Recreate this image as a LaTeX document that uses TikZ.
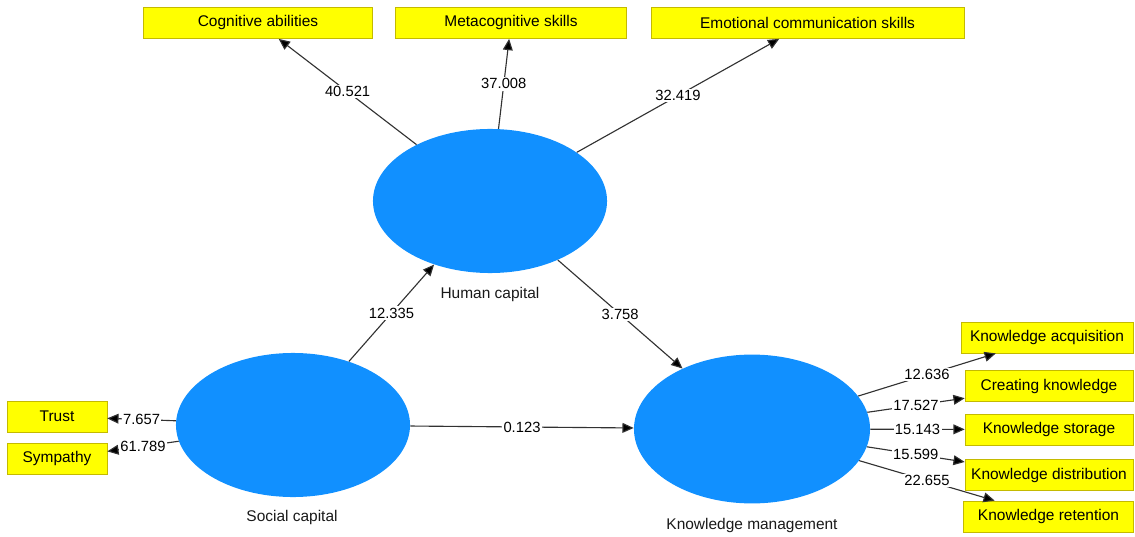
\documentclass[tikz,border=0pt]{standalone}
\usepackage{fontspec}
\setmainfont{Liberation Sans}
\usetikzlibrary{shapes.geometric,arrows.meta}
\definecolor{lvblue}{RGB}{17,144,255}
\definecolor{indyellow}{RGB}{255,255,0}
\definecolor{indedge}{RGB}{196,186,0}
\definecolor{pathgray}{RGB}{50,50,50}

\begin{document}
\begin{tikzpicture}[
    x = 0.025cm, y = -0.025cm,
    latent/.style = {ellipse, fill=lvblue, minimum width=5.85cm, minimum height=3.6cm, inner sep=0pt},
    indicator/.style = {draw=indedge, fill=indyellow, minimum height=0.78cm, inner sep=2pt,
        font=\fontsize{11}{13}\selectfont},
    lvname/.style = {font=\fontsize{11}{13}\selectfont, text=black!90},
    link/.style = {draw=pathgray, line width=0.8pt, -{Triangle[length=8pt,width=7pt,fill=black]}},
    tval/.style = {midway, fill=white, inner sep=1pt, font=\fontsize{10.5}{12}\selectfont}]

\useasboundingbox (0,0) rectangle (1135,537);

\node[latent] (hc) at (490,201) {};
\node[latent] (sc) at (293,425) {};
\node[latent, minimum width=5.9cm, minimum height=3.72cm] (km) at (752,429) {};
\node[lvname] (hcname) at (490,294) {Human capital};
\node[lvname] (scname) at (292,517) {Social capital};
\node[lvname] (kmname) at (752,525) {Knowledge management};

\node[indicator, minimum width=5.725cm] (cog) at (258,23) {Cognitive abilities};
\node[indicator, minimum width=5.775cm] (meta) at (511,23) {Metacognitive skills};
\node[indicator, minimum width=7.825cm] (emo) at (807.5,23) {Emotional communication skills};
\node[indicator, minimum width=2.5cm] (trust) at (57,416.5) {Trust};
\node[indicator, minimum width=2.5cm] (symp) at (57,458.5) {Sympathy};
\node[indicator, minimum width=4.3cm] (acq) at (1047,337.5) {Knowledge acquisition};
\node[indicator, minimum width=4.2cm] (crea) at (1049,386) {Creating knowledge};
\node[indicator, minimum width=4.2cm] (stor) at (1049,429.5) {Knowledge storage};
\node[indicator, minimum width=4.2cm] (dist) at (1049,475) {Knowledge distribution};
\node[indicator, minimum width=4.25cm] (ret) at (1048.5,516.5) {Knowledge retention};

\draw[link] (hc) -- (cog) node[tval] {40.521};
\draw[link] (hc) -- (meta) node[tval] {37.008};
\draw[link] (hc) -- (emo) node[tval] {32.419};
\draw[link] (sc) -- (hc) node[tval] {12.335};
\draw[link] (hc) -- (km) node[tval] {3.758};
\draw[link] (sc) -- (km) node[tval] {0.123};
\draw[link] (sc) -- (trust) node[tval] {7.657};
\draw[link] (sc) -- (symp) node[tval] {61.789};
\draw[link] (km) -- (acq) node[tval] {12.636};
\draw[link] (km) -- (crea) node[tval] {17.527};
\draw[link] (km) -- (stor) node[tval] {15.143};
\draw[link] (km) -- (dist) node[tval] {15.599};
\draw[link] (km) -- (ret) node[tval] {22.655};
\end{tikzpicture}
\end{document}
